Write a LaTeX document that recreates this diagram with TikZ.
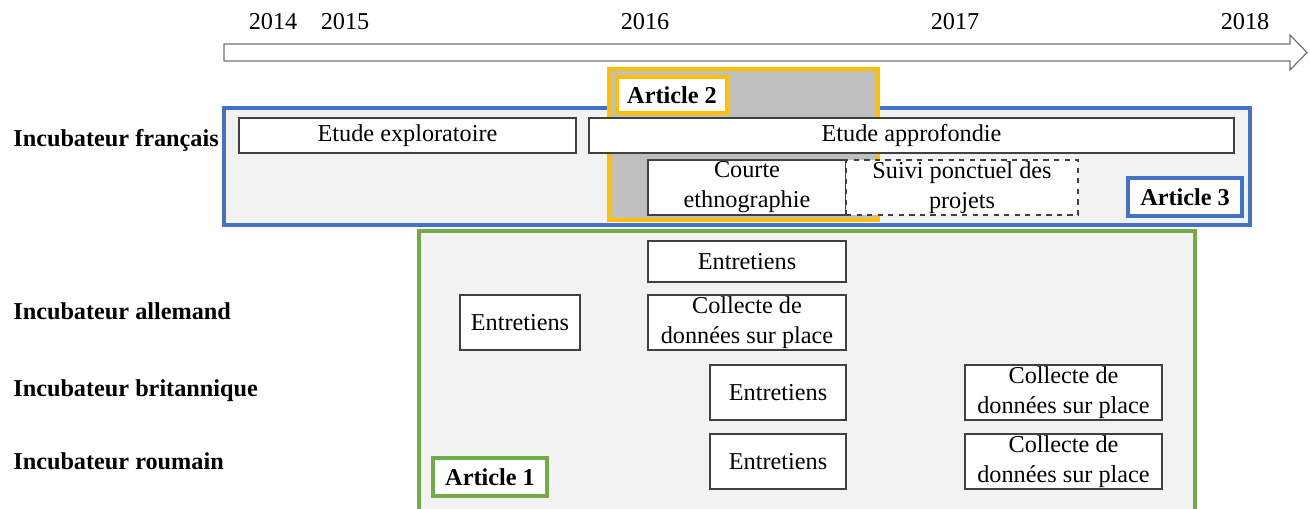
\documentclass[tikz,border=0pt]{standalone}
\usepackage{fontspec}
\setmainfont{Liberation Serif}
\usepackage{xcolor}
\usepackage{tikz}
\definecolor{bleuart}{HTML}{4472C4}
\definecolor{orart}{HTML}{FFC000}
\definecolor{vertart}{HTML}{70AD47}
\definecolor{fondclair}{HTML}{F2F2F2}
\definecolor{fondgris}{HTML}{BFBFBF}
\tikzset{
	taille/.style 2 args={minimum width=#1*0.02cm, minimum height=#2*0.02cm},
	etape/.style={draw=black!75, fill=white, line width=0.6pt, align=center, inner sep=0pt, font=\fontsize{13.8}{17}\selectfont},
	article/.style={draw=#1, fill=white, line width=2.2pt, inner sep=0pt, font=\fontsize{13.8}{17}\selectfont\bfseries},
	pays/.style={anchor=west, inner sep=0pt, font=\fontsize{13.8}{17}\selectfont\bfseries},
	annee/.style={inner sep=0pt, font=\fontsize{13.8}{17}\selectfont},
	zone/.style={line width=2pt},
}

\begin{document}
\begin{tikzpicture}[x=0.02cm, y=-0.02cm]
			\useasboundingbox (0, 0) rectangle (1310, 508);
			% axe du temps
			\draw[draw=black!55, line width=0.7pt] (224, 44) -- (1290, 44) -- (1290, 35) -- (1307, 52.5) -- (1290, 70) -- (1290, 61) -- (224, 61) -- cycle;
			\node[annee] (a2014) at (273, 22) {2014};
			\node[annee] (a2015) at (345, 22) {2015};
			\node[annee] (a2016) at (645, 22) {2016};
			\node[annee] (a2017) at (955, 22) {2017};
			\node[annee] (a2018) at (1245, 22) {2018};
			% zones des articles
			\filldraw[zone, fill=fondclair, draw=bleuart] (224, 108) rectangle (1250, 225);
			\filldraw[zone, fill=fondgris, draw=orart] (609, 69) rectangle (878, 220);
			\filldraw[zone, fill=fondclair, draw=vertart] (419, 231) rectangle (1195, 515);
			% lignes
			\node[pays] (fr) at (13, 140) {Incubateur français};
			\node[pays] (de) at (13, 311) {Incubateur allemand};
			\node[pays] (uk) at (13, 391) {Incubateur britannique};
			\node[pays] (ro) at (13, 461) {Incubateur roumain};
			% incubateur français
			\node[etape, taille={337}{35}] (explo) at (407.5, 135.5) {Etude exploratoire};
			\node[etape, taille={645}{35}] (appro) at (911.5, 135.5) {Etude approfondie};
			\node[etape, taille={198}{55}] (ethno) at (747, 187.5) {Courte\\ethnographie};
			\node[etape, taille={232}{55}, dashed] (suivi) at (962, 187.5) {Suivi ponctuel des\\projets};
			% autres incubateurs
			\node[etape, taille={198}{41}] (entde1) at (747, 261.5) {Entretiens};
			\node[etape, taille={120}{55}] (entde2) at (520, 322.5) {Entretiens};
			\node[etape, taille={198}{55}] (colde) at (747, 322.5) {Collecte de\\données sur place};
			\node[etape, taille={136}{55}] (entuk) at (778, 392.5) {Entretiens};
			\node[etape, taille={197}{55}] (coluk) at (1063.5, 392.5) {Collecte de\\données sur place};
			\node[etape, taille={136}{55}] (entro) at (778, 461.5) {Entretiens};
			\node[etape, taille={197}{55}] (colro) at (1063.5, 461.5) {Collecte de\\données sur place};
			% etiquettes
			\node[article=orart, taille={110}{36}] (art2) at (672, 95) {Article 2};
			\node[article=bleuart, taille={114}{38}] (art3) at (1185, 197) {Article 3};
			\node[article=vertart, taille={114}{38}] (art1) at (490, 477) {Article 1};
		\end{tikzpicture}
\end{document}
